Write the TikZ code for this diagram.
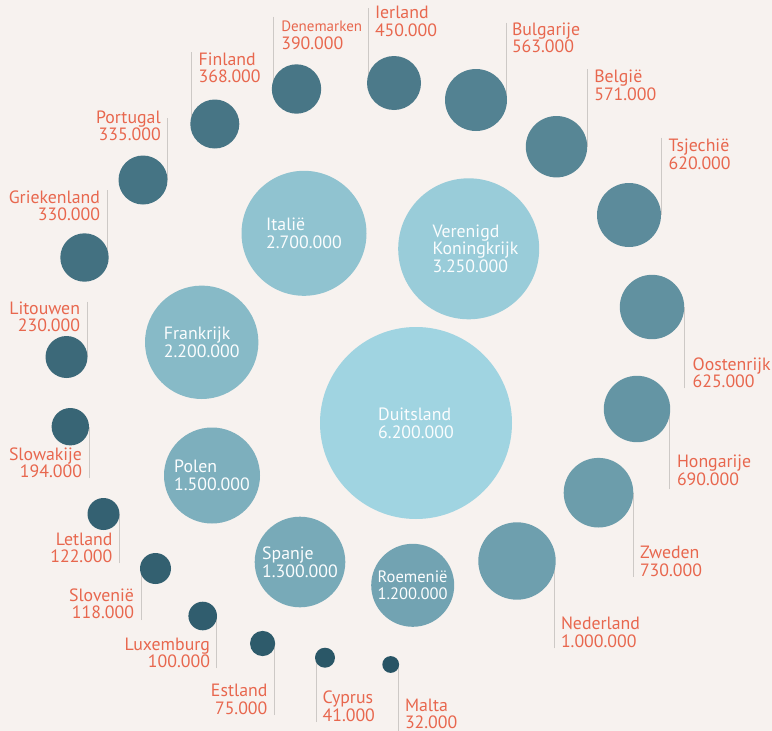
\documentclass[tikz,border=0pt]{standalone}
\usepackage{fontspec}
\setmainfont{PT Sans}
\definecolor{bgc}{HTML}{F7F2EF}
\definecolor{lblc}{HTML}{E8674E}
\definecolor{linec}{HTML}{CDC9C6}
\definecolor{darkb}{HTML}{245061}
\definecolor{lightb}{HTML}{A0D4E1}
\newcommand\lstack[1]{\vtop{\lineskiplimit=-20pt\halign{##\hfil\cr#1\crcr}}}
\newcommand\rstack[1]{\vtop{\lineskiplimit=-20pt\halign{\hfil##\cr#1\crcr}}}
\pgfdeclarelayer{bglayer}
\pgfdeclarelayer{linelayer}
\pgfsetlayers{bglayer,linelayer,main}
\tikzset{
  ball/.style n args={2}{circle, inner sep=0pt, outer sep=0pt, fill=lightb!#1!darkb,
    minimum size=#2pt, text=white!96!lightb, font=\fontsize{17.8}{17.8}\selectfont},
  lab/.style={inner sep=0pt, outer sep=0pt, text=lblc, font=\fontsize{17.8}{17.7}\selectfont},
  labL/.style={lab, anchor=base west},
  labR/.style={lab, anchor=base east},
  leader/.style={draw=linec, line width=1pt}
}
\begin{document}
\begin{tikzpicture}[x=1pt,y=-1pt]
\begin{pgfonlayer}{bglayer}
\fill[bgc] (0,0) rectangle (772,731);
\end{pgfonlayer}
\useasboundingbox (0,0) rectangle (772,731);
% big circles
\node[ball={100}{192}] (de) at (416,423) {\lstack{Duitsland\cr 6.200.000}};
\node[ball={94}{141}] (vk) at (468.7,248.8) {\kern13.6pt\lstack{Verenigd\cr Koningkrijk\cr 3.250.000}};
\node[ball={87}{125}] (it) at (304,233.3) {\lstack{Italië\cr 2.700.000}};
\node[ball={80}{113.4}] (fr) at (201.7,342.3) {\lstack{Frankrijk\cr 2.200.000}};
\node[ball={72}{96}] (pl) at (212,475.5) {\lstack{Polen\cr 1.500.000}};
\node[ball={68}{90.6}] (es) at (300,562) {\lstack{Spanje\cr 1.300.000}};
\node[ball={63}{83}, font=\fontsize{16.5}{17.3}\selectfont] (ro) at (412.7,585.3) {\lstack{Roemenië\cr 1.200.000}};
% small circles
\node[ball={60}{77.4}] (nl) at (517,561) {};
\node[ball={58}{69.6}] (se) at (598.5,492.7) {};
\node[ball={52}{66.4}] (hu) at (637,409) {};
\node[ball={49}{64.4}] (at) at (652,307) {};
\node[ball={45}{64}] (cz) at (629,215) {};
\node[ball={41}{61.4}] (be) at (556.5,146.7) {};
\node[ball={38}{62}] (bg) at (476,100) {};
\node[ball={32}{54}] (ie) at (394,83) {};
\node[ball={29}{49.4}] (dk) at (296.5,89) {};
\node[ball={28}{49}] (fi) at (214.8,124) {};
\node[ball={27}{49}] (pt) at (143,180) {};
\node[ball={25}{48.4}] (gr) at (84.5,257.5) {};
\node[ball={19}{42}] (lt) at (66.5,357) {};
\node[ball={16}{37.4}] (sk) at (70.3,426.7) {};
\node[ball={13}{32}] (lv) at (103.5,514) {};
\node[ball={12}{31}] (si) at (155.5,568.5) {};
\node[ball={10}{28.6}] (lu) at (202.7,616) {};
\node[ball={8}{25.2}] (ee) at (262.6,643.5) {};
\node[ball={5}{20}] (cy) at (325,657.7) {};
\node[ball={3}{16.8}] (mt) at (390.7,664.5) {};
% labels
\node[labL] (dkT) at (281.3,31.7) {\lstack{{\fontsize{15}{15}\selectfont Denemarken}\cr 390.000}};
\node[labL] (fiT) at (198.6,65) {\lstack{Finland\cr 368.000}};
\node[labL] (ieT) at (375,18.5) {\lstack{Ierland\cr 450.000}};
\node[labL] (bgT) at (512,35) {\lstack{Bulgarije\cr 563.000}};
\node[labL] (beT) at (594.3,82.7) {\lstack{België\cr 571.000}};
\node[labL] (czT) at (668.6,151.7) {\lstack{Tsjechië\cr 620.000}};
\node[labL] (atT) at (692.6,370) {\lstack{Oostenrijk\cr 625.000}};
\node[labL] (huT) at (677,467.7) {\lstack{Hongarije\cr 690.000}};
\node[labL] (seT) at (640,558.3) {\lstack{Zweden\cr 730.000}};
\node[labL] (nlT) at (561,629.3) {\lstack{Nederland\cr 1.000.000}};
\node[labL] (mtT) at (405,711) {\lstack{Malta\cr 32.000}};
\node[labL] (cyT) at (322.6,703.5) {\lstack{Cyprus\cr 41.000}};
\node[labR] (ptT) at (160.7,123) {\rstack{Portugal\cr 335.000}};
\node[labR] (grT) at (100,203) {\rstack{Griekenland\cr 330.000}};
\node[labR] (ltT) at (80,314) {\rstack{Litouwen\cr 230.000}};
\node[labR] (skT) at (82,460) {\rstack{Slowakije\cr 194.000}};
\node[labR] (lvT) at (112.4,545) {\rstack{Letland\cr 122.000}};
\node[labR] (siT) at (134,601) {\rstack{Slovenië\cr 118.000}};
\node[labR] (luT) at (210,650) {\rstack{Luxemburg\cr 100.000}};
\node[labR] (eeT) at (267.4,696.7) {\rstack{Estland\cr 75.000}};
% leader line ends
\coordinate (dkL) at (273.7,16.7);
\coordinate (fiL) at (191,52);
\coordinate (ieL) at (368.3,8);
\coordinate (bgL) at (506,22.7);
\coordinate (beL) at (587,69.3);
\coordinate (czL) at (661,137.7);
\coordinate (ptL) at (167.3,118);
\coordinate (grL) at (107.3,190);
\coordinate (ltL) at (87,301.7);
\coordinate (atL) at (684,388.3);
\coordinate (huL) at (669.3,489.3);
\coordinate (seL) at (633.3,576.7);
\coordinate (nlL) at (554,648.3);
\coordinate (mtL) at (398.3,731);
\coordinate (cyL) at (316,722);
\coordinate (eeL) at (274.3,715);
\coordinate (luL) at (216.7,668.3);
\coordinate (siL) at (141,620);
\coordinate (lvL) at (119,563.3);
\coordinate (skL) at (89,478.3);
\begin{pgfonlayer}{linelayer}
\foreach \c in {dk,fi,ie,bg,be,cz,pt,gr,lt,at,hu,se,nl,mt,cy,ee,lu,si,lv,sk}
  \draw[leader] (\c L) -- (\c L |- \c.center);
\end{pgfonlayer}
\end{tikzpicture}
\end{document}
